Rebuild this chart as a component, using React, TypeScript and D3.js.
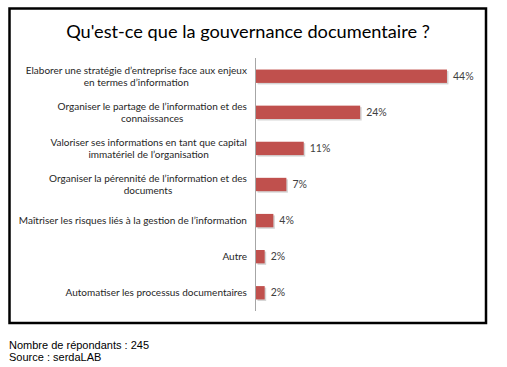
import * as d3 from "d3";

const title = "Qu'est-ce que la gouvernance documentaire ?";
const categories = [
  ["Elaborer une stratégie d’entreprise face aux enjeux", "en termes d’information"],
  ["Organiser le partage de l’information et des", "connaissances"],
  ["Valoriser ses informations en tant que capital", "immatériel de l’organisation"],
  ["Organiser la pérennité de l’information et des", "documents"],
  ["Maîtriser les risques liés à la gestion de l’information"],
  ["Autre"],
  ["Automatiser les processus documentaires"],
];
const values = [44, 24, 11, 7, 4, 2, 2];
const footnotes = ["Nombre de répondants : 245", "Source : serdaLAB"];

const labelFont = "Lato, 'Liberation Sans', sans-serif";
const labelSize = 10;

let ctx: CanvasRenderingContext2D | null = null;
function measure(s: string) {
  if (!ctx) ctx = document.createElement("canvas").getContext("2d");
  ctx!.font = `${labelSize}px ${labelFont}`;
  return ctx!.measureText(s).width;
}

export default function App() {
  const width = 507, height = 367;
  const axisX = 256;
  const labelRight = 247;
  const x = d3.scaleLinear().domain([0, 50]).range([axisX, axisX + 217]);
  const y = d3.scaleBand<number>()
    .domain(d3.range(values.length))
    .range([58, 311])
    .paddingInner(0.63)
    .paddingOuter(0.32);

  return (
    <svg width={width} height={height}
      style={{position: "absolute", left: 0, top: 0, background: "#fff"}}>
      <rect x={9.5} y={8.5} width={476.5} height={314.5} fill="#fff" stroke="#000" strokeWidth={2.5} />
      <text x={248} y={38} textAnchor="middle" fontSize={18.2}
        fontFamily="Lato, 'Liberation Sans', sans-serif" fill="#000">{title}</text>
      <line x1={axisX - 0.5} x2={axisX - 0.5} y1={58} y2={311} stroke="#a6a6a6" strokeWidth={1} />
      {values.map((v, i) => {
        const by = y(i)!;
        const bh = y.bandwidth();
        const cy = by + bh / 2;
        const lines = categories[i];
        const blockW = Math.max(...lines.map(measure));
        const centre = labelRight - blockW / 2;
        return (
          <g key={i}>
            <rect x={axisX + 1.5} y={by + 1.5} width={x(v) - axisX} height={bh} fill="#d4d4d4" />
            <rect x={axisX} y={by} width={x(v) - axisX} height={bh} fill="#c0504d" />
            <text x={x(v) + 6} y={cy} dy="0.35em" fontSize={10.5}
              fontFamily={labelFont} fill="#404040">{v}%</text>
            {lines.map((l, j) => (
              <text key={j} x={centre} y={cy + (j - (lines.length - 1) / 2) * 12} dy="0.35em"
                textAnchor="middle"
                fontSize={labelSize} fontFamily={labelFont} fill="#262626">
                {l}
              </text>
            ))}
          </g>
        );
      })}
      {footnotes.map((f, i) => (
        <text key={i} x={9} y={349 + i * 12} fontSize={11}
          fontFamily="'Liberation Sans', Arial, sans-serif" fill="#000">{f}</text>
      ))}
    </svg>
  );
}
